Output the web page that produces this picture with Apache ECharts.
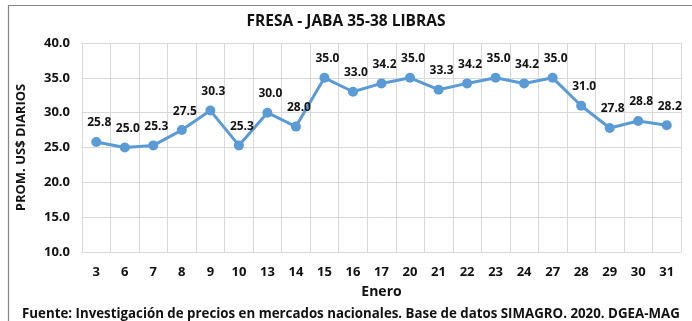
<!DOCTYPE html>
<html>
<head>
<meta charset="utf-8">
<script src="https://cdn.jsdelivr.net/npm/echarts@6/dist/echarts.min.js"></script>
<style>
  html, body { margin: 0; padding: 0; background: #fff; }
  #chart { width: 692px; height: 321px; }
</style>
</head>
<body>
<div id="chart"></div>
<script>
// Días de enero y precio promedio diario (US$) de la jaba de fresa
const days = ['3', '6', '7', '8', '9', '10', '13', '14', '15', '16', '17', '20', '21', '22', '23', '24', '27', '28', '29', '30', '31'];
const prices = [25.8, 25.0, 25.3, 27.5, 30.3, 25.3, 30.0, 28.0, 35.0, 33.0, 34.2, 35.0, 33.3, 34.2, 35.0, 34.2, 35.0, 31.0, 27.8, 28.8, 28.2];
const yTicks = { min: 10, max: 40, step: 5 };

const FONT = '"Open Sans", Lato, sans-serif';
const chart = echarts.init(document.getElementById('chart'), null, { renderer: 'canvas' });

chart.setOption({
  backgroundColor: '#fff',
  animation: false,
  title: {
    text: 'FRESA - JABA 35-38 LIBRAS',
    left: 'center',
    top: 9,
    textStyle: { fontFamily: FONT, fontSize: 15.5, fontWeight: 'bold', color: '#111' }
  },
  graphic: [
    {
      type: 'rect',
      shape: { x: 8.5, y: 5.5, width: 700, height: 330 },
      style: { fill: 'none', stroke: '#858585', lineWidth: 1.2 },
      silent: true, z: -1
    },
    {
      type: 'text',
      left: 22,
      top: 308,
      style: {
        text: 'Fuente: Investigación de precios en mercados nacionales. Base de datos SIMAGRO. 2020. DGEA-MAG',
        font: 'bold 13.3px ' + FONT,
        fill: '#111'
      }
    }
  ],
  grid: { left: 82, right: 11, top: 43, bottom: 69, containLabel: false },
  xAxis: {
    type: 'category',
    data: days,
    boundaryGap: true,
    name: 'Enero',
    nameLocation: 'middle',
    nameGap: 33,
    nameTextStyle: { fontFamily: FONT, fontSize: 14, fontWeight: 'bold', color: '#111' },
    axisLine: { show: true, lineStyle: { color: '#d9d9d9', width: 1 } },
    axisTick: { show: false },
    axisLabel: { fontFamily: FONT, fontSize: 13, fontWeight: 'bold', color: '#111', margin: 14 },
    splitLine: { show: true, interval: 0, lineStyle: { color: '#d9d9d9', width: 1 } }
  },
  yAxis: {
    type: 'value',
    min: yTicks.min,
    max: yTicks.max,
    interval: yTicks.step,
    name: 'PROM. US$ DIARIOS',
    nameLocation: 'middle',
    nameGap: 54,
    nameTextStyle: { fontFamily: FONT, fontSize: 13, fontWeight: 'bold', color: '#111' },
    axisLine: { show: true, lineStyle: { color: '#d9d9d9', width: 1 } },
    axisTick: { show: false },
    axisLabel: {
      fontFamily: FONT, fontSize: 13, fontWeight: 'bold', color: '#111', margin: 12,
      formatter: v => v.toFixed(1)
    },
    splitLine: { show: true, lineStyle: { color: '#d9d9d9', width: 1 } }
  },
  series: [{
    type: 'line',
    data: prices,
    symbol: 'circle',
    symbolSize: 10,
    lineStyle: { color: '#5B9BD5', width: 3 },
    itemStyle: { color: '#5B9BD5' },
    label: {
      show: true,
      position: 'top',
      distance: 8,
      offset: [3, 0],
      fontFamily: FONT,
      fontSize: 12,
      fontWeight: 'bold',
      color: '#111',
      formatter: p => p.value.toFixed(1)
    }
  }]
});
</script>
</body>
</html>
